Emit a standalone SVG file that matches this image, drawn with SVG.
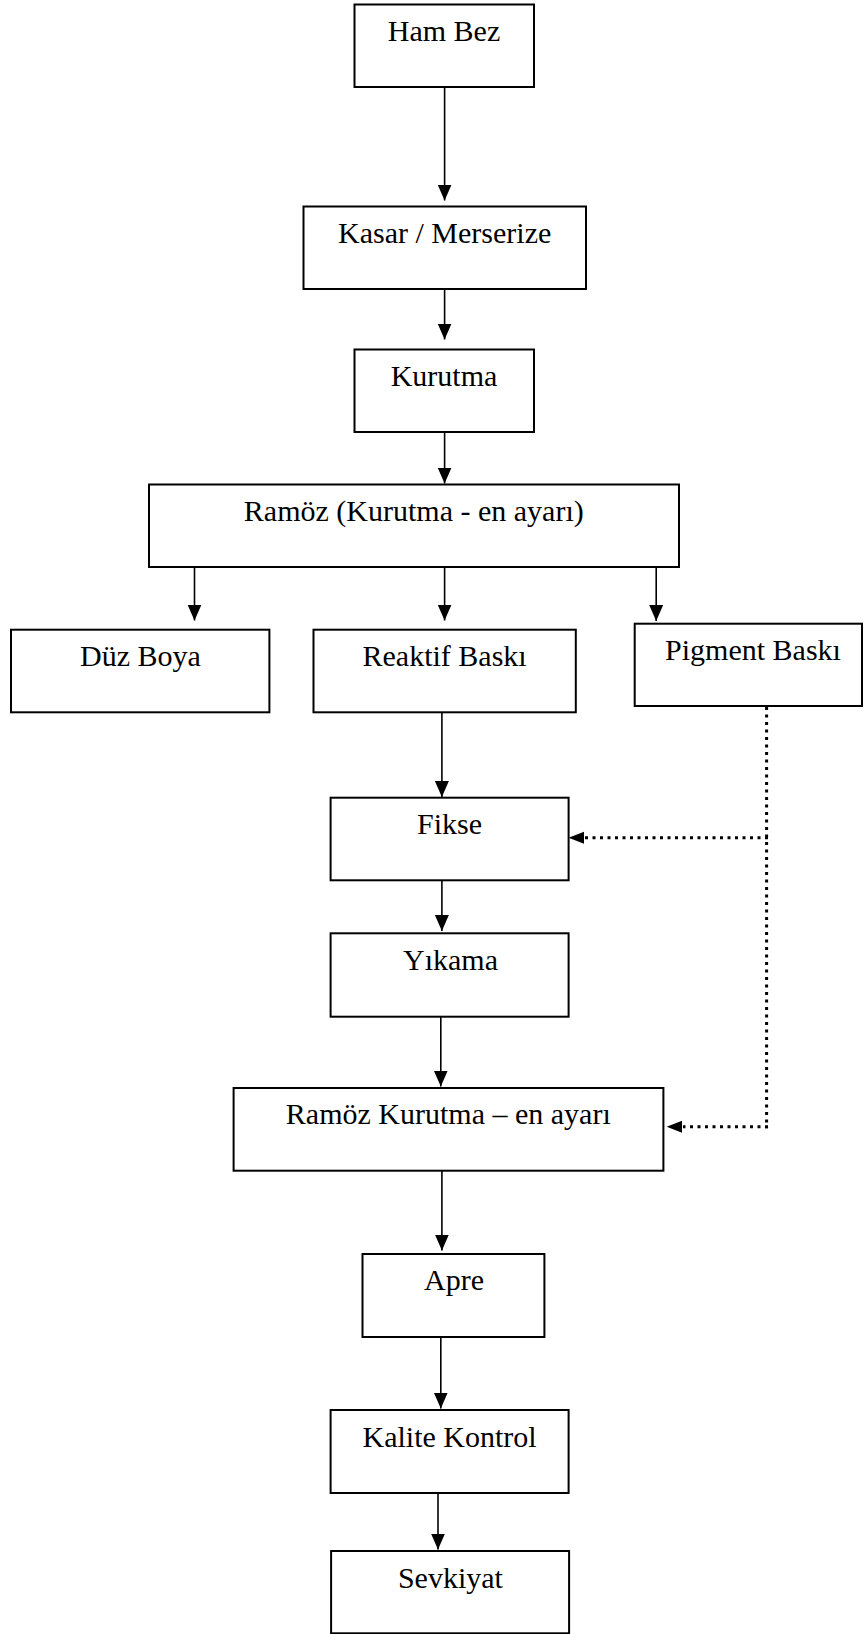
<svg xmlns="http://www.w3.org/2000/svg" width="864" height="1634" viewBox="0 0 864 1634">
  <style>
    .box { fill: #ffffff; stroke: #000000; stroke-width: 2; }
    .lbl { font-family: "Liberation Serif", "Times New Roman", serif; font-size: 30px; fill: #000000; text-anchor: middle; }
    .flow { stroke: #000000; stroke-width: 1.6; fill: none; marker-end: url(#head); }
    .dot { stroke: #000000; stroke-width: 3; fill: none; stroke-dasharray: 3 4.5; }
    .dothead { fill: #000000; }
  </style>
  <defs>
    <marker id="head" markerUnits="userSpaceOnUse" markerWidth="17" markerHeight="15" refX="16" refY="7.5" orient="auto">
      <path d="M0,0.5 L16,7.5 L0,14.5 z" fill="#000000"/>
    </marker>
  </defs>
  <rect width="864" height="1634" fill="#ffffff"/>

  <g id="ham-bez">
    <rect class="box" x="354.5" y="4.5" width="179.5" height="82.5"/>
    <text class="lbl" x="444" y="41">Ham Bez</text>
  </g>
  <g id="kasar-merserize">
    <rect class="box" x="303.5" y="206.5" width="282.5" height="82.5"/>
    <text class="lbl" x="444.7" y="243">Kasar / Merserize</text>
  </g>
  <g id="kurutma">
    <rect class="box" x="354.5" y="349.5" width="179.5" height="82.5"/>
    <text class="lbl" x="444" y="386">Kurutma</text>
  </g>
  <g id="ramoz-1">
    <rect class="box" x="149" y="484.5" width="530" height="82.5"/>
    <text class="lbl" x="413.8" y="521">Ramöz (Kurutma - en ayarı)</text>
  </g>
  <g id="duz-boya">
    <rect class="box" x="11" y="629.7" width="258.4" height="82.6"/>
    <text class="lbl" x="140.5" y="666">Düz Boya</text>
  </g>
  <g id="reaktif-baski">
    <rect class="box" x="313.5" y="629.7" width="262.3" height="82.6"/>
    <text class="lbl" x="444.6" y="666">Reaktif Baskı</text>
  </g>
  <g id="pigment-baski">
    <rect class="box" x="634.7" y="623.7" width="227.3" height="82.3"/>
    <text class="lbl" x="753" y="660">Pigment Baskı</text>
  </g>
  <g id="fikse">
    <rect class="box" x="330.6" y="797.7" width="238" height="82.6"/>
    <text class="lbl" x="449.6" y="834.3">Fikse</text>
  </g>
  <g id="yikama">
    <rect class="box" x="330.6" y="933.3" width="238" height="83.4"/>
    <text class="lbl" x="450.5" y="970">Yıkama</text>
  </g>
  <g id="ramoz-2">
    <rect class="box" x="233.6" y="1088" width="429.8" height="82.7"/>
    <text class="lbl" x="448.3" y="1124.3">Ramöz Kurutma – en ayarı</text>
  </g>
  <g id="apre">
    <rect class="box" x="362.5" y="1254" width="181.9" height="83"/>
    <text class="lbl" x="454" y="1290.3">Apre</text>
  </g>
  <g id="kalite-kontrol">
    <rect class="box" x="330.6" y="1410" width="238" height="83"/>
    <text class="lbl" x="449.6" y="1446.7">Kalite Kontrol</text>
  </g>
  <g id="sevkiyat">
    <rect class="box" x="331.1" y="1551" width="238" height="82.3"/>
    <text class="lbl" x="450.4" y="1587.7">Sevkiyat</text>
  </g>

  <g id="connectors">
    <!-- solid process flow -->
    <line class="flow" x1="444.6" y1="87" x2="444.6" y2="200.5"/>
    <line class="flow" x1="444.6" y1="289" x2="444.6" y2="339.5"/>
    <line class="flow" x1="444.6" y1="432" x2="444.6" y2="483.5"/>
    <line class="flow" x1="194.5" y1="567" x2="194.5" y2="620.5"/>
    <line class="flow" x1="444.6" y1="567" x2="444.6" y2="620.5"/>
    <line class="flow" x1="656.2" y1="567" x2="656.2" y2="621"/>
    <line class="flow" x1="441.9" y1="712.3" x2="441.9" y2="797"/>
    <line class="flow" x1="441.9" y1="880.3" x2="441.9" y2="931"/>
    <line class="flow" x1="440.8" y1="1016.7" x2="440.8" y2="1086.5"/>
    <line class="flow" x1="441.9" y1="1170.7" x2="441.9" y2="1250.5"/>
    <line class="flow" x1="440.8" y1="1337" x2="440.8" y2="1408.5"/>
    <line class="flow" x1="438" y1="1493" x2="438" y2="1549.5"/>

    <!-- dotted bypass from pigment printing -->
    <line class="dot" x1="766.6" y1="707" x2="766.6" y2="1128.2"/>
    <line class="dot" x1="768" y1="837.7" x2="585" y2="837.7"/>
    <path class="dothead" d="M568.6,837.7 L584,831.7 L584,843.7 z"/>
    <line class="dot" x1="768" y1="1126.7" x2="683" y2="1126.7"/>
    <path class="dothead" d="M666.7,1126.7 L682,1120.7 L682,1132.7 z"/>
  </g>
</svg>
